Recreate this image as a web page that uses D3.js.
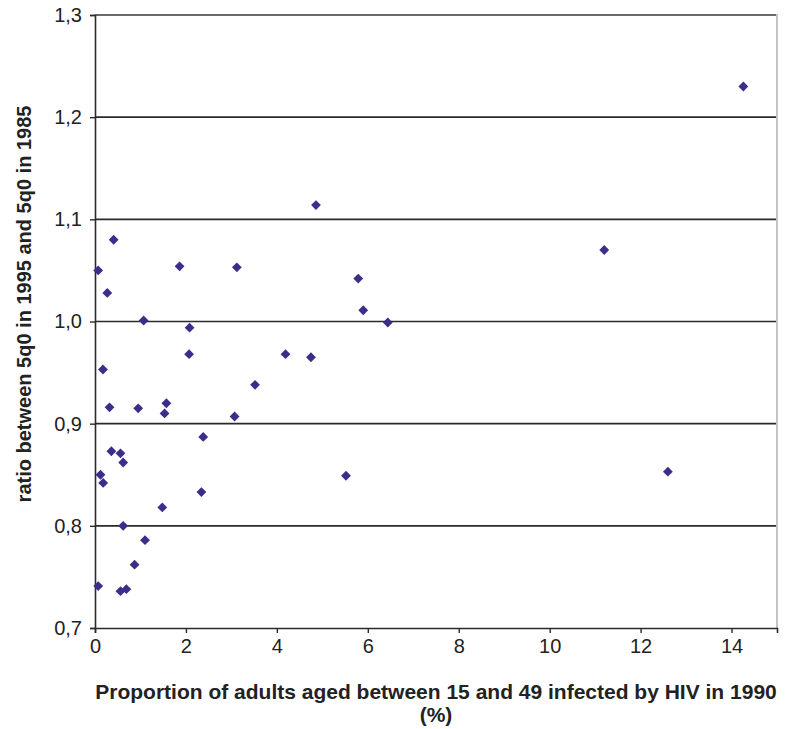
<!DOCTYPE html>
<html>
<head>
<meta charset="utf-8">
<script src="https://cdn.jsdelivr.net/npm/d3@7"></script>
<style>
  html, body { margin: 0; padding: 0; background: #fff; }
  svg { display: block; }
  text { font-family: "Liberation Sans", Arial, sans-serif; }
</style>
</head>
<body>
<svg id="chart" width="787" height="729"></svg>
<script>
// HIV prevalence 1990 (%) vs ratio 5q0 1995/1985
const hivPrevalence = [14.26, 4.86, 11.2, 0.41, 0.07, 1.86, 3.12, 0.27, 1.07, 2.08,
  2.07, 0.175, 0.32, 0.95, 1.57, 1.53, 3.07, 5.79, 5.9, 6.44,
  4.19, 4.75, 3.52, 2.38, 0.36, 0.56, 0.62, 0.12, 0.18, 2.34,
  1.48, 0.62, 1.10, 0.87, 0.07, 0.56, 0.69, 5.52, 12.6];
const mortalityRatio = [1.230, 1.114, 1.070, 1.080, 1.050, 1.054, 1.053, 1.028, 1.001, 0.994,
  0.968, 0.953, 0.916, 0.915, 0.920, 0.910, 0.907, 1.042, 1.011, 0.999,
  0.968, 0.965, 0.938, 0.887, 0.873, 0.871, 0.862, 0.850, 0.842, 0.833,
  0.818, 0.800, 0.786, 0.762, 0.741, 0.736, 0.738, 0.849, 0.853];
const xTicks = [0, 2, 4, 6, 8, 10, 12, 14];
const yTicks = [0.7, 0.8, 0.9, 1.0, 1.1, 1.2, 1.3];
const xTitle = ["Proportion of adults aged between 15 and 49 infected by HIV in 1990", "(%)"];
const yTitle = "ratio between 5q0 in 1995 and 5q0 in 1985";

(function () {
const svg = d3.select("#chart");
const mLeft = 95, mRight = 777, mTop = 15, mBottom = 628;

const x = d3.scaleLinear().domain([0, 15]).range([mLeft, mRight]);
const y = d3.scaleLinear().domain([0.7, 1.3]).range([mBottom, mTop]);
const fmt = v => d3.format(".1f")(v).replace(".", ",");

// gridlines (except bottom axis and top)
svg.append("g").selectAll("line")
  .data(yTicks.filter(v => v > 0.75 && v < 1.25))
  .join("line")
  .attr("x1", mLeft).attr("x2", mRight)
  .attr("y1", d => y(d)).attr("y2", d => y(d))
  .attr("stroke", "#2a2a2a").attr("stroke-width", 1.6);

// top line (gray)
svg.append("line")
  .attr("x1", mLeft).attr("x2", mRight)
  .attr("y1", y(1.3)).attr("y2", y(1.3))
  .attr("stroke", "#6a6a6a").attr("stroke-width", 1.8);

// right border (light gray)
svg.append("line")
  .attr("x1", mRight).attr("x2", mRight)
  .attr("y1", y(1.3) - 1).attr("y2", mBottom)
  .attr("stroke", "#c4c4c4").attr("stroke-width", 2);

// y axis
const yAxis = d3.axisLeft(y).tickValues(yTicks).tickFormat(fmt).tickSize(5).tickPadding(8);
const gy = svg.append("g").attr("transform", `translate(${mLeft},0)`).call(yAxis);
gy.select(".domain").attr("stroke", "#2a2a2a").attr("stroke-width", 1.6);
gy.selectAll(".tick line").attr("stroke", "#2a2a2a").attr("stroke-width", 1.4);
gy.selectAll(".tick text").attr("font-size", 20).attr("fill", "#222")
  .attr("font-family", "Liberation Sans, Arial, sans-serif");

// x axis
const xAxis = d3.axisBottom(x).tickValues(xTicks).tickFormat(d3.format("d")).tickSize(5).tickPadding(6);
const gx = svg.append("g").attr("transform", `translate(0,${mBottom})`).call(xAxis);
gx.select(".domain").attr("stroke", "#2a2a2a").attr("stroke-width", 1.6);
gx.selectAll(".tick line").attr("stroke", "#2a2a2a").attr("stroke-width", 1.4);
gx.selectAll(".tick text").attr("font-size", 20).attr("fill", "#222")
  .attr("font-family", "Liberation Sans, Arial, sans-serif");

// points
const data = hivPrevalence.map((v, i) => ({ x: v, y: mortalityRatio[i] }));
const sym = d3.symbol().type(d3.symbolSquare).size(48);
svg.append("g").selectAll("path")
  .data(data)
  .join("path")
  .attr("d", sym)
  .attr("transform", d => `translate(${x(d.x)},${y(d.y)}) rotate(45)`)
  .attr("fill", "#3a2e8a");

// x title
svg.append("text")
  .attr("x", (mLeft + mRight) / 2).attr("y", 699)
  .attr("text-anchor", "middle")
  .attr("font-size", 21).attr("font-weight", "bold").attr("fill", "#222")
  .text(xTitle[0]);
svg.append("text")
  .attr("x", (mLeft + mRight) / 2).attr("y", 722)
  .attr("text-anchor", "middle")
  .attr("font-size", 21).attr("font-weight", "bold").attr("fill", "#222")
  .text(xTitle[1]);

// y title
svg.append("text")
  .attr("transform", `translate(31,304) rotate(-90)`)
  .attr("text-anchor", "middle")
  .attr("font-size", 20).attr("font-weight", "bold").attr("fill", "#222")
  .text(yTitle);
})();
</script>
</body>
</html>
